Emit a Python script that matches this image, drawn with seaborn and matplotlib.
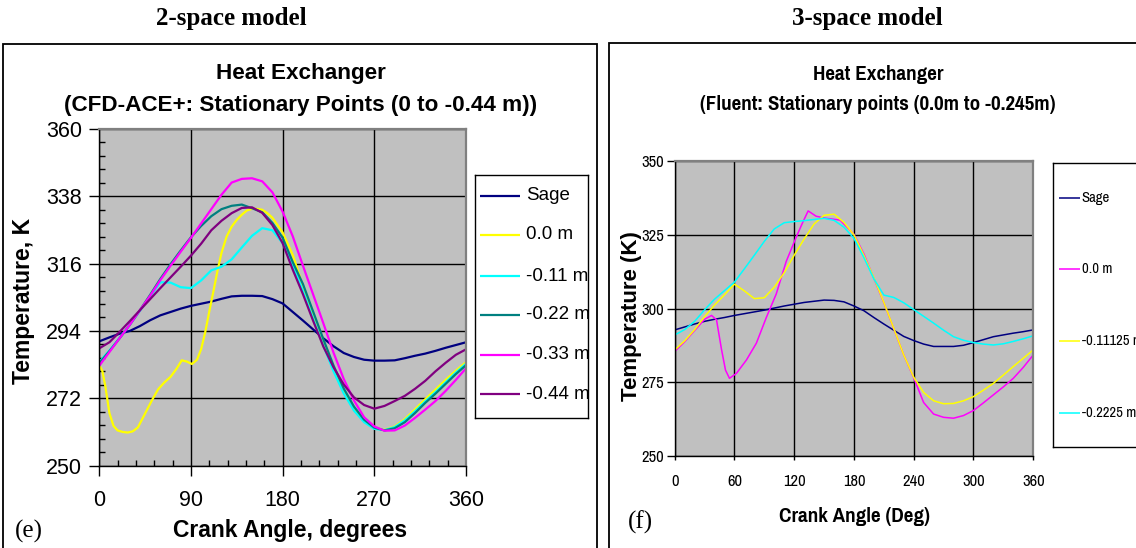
import matplotlib
matplotlib.use("Agg")
import matplotlib.pyplot as plt
import pandas as pd
import seaborn as sns
from matplotlib import font_manager
from matplotlib.patches import Rectangle
from matplotlib.ticker import FixedLocator, MultipleLocator

W, H, DPI = 1136, 548, 100

# ---------------- 2-space model (CFD-ACE+) ----------------
angle_2s = list(range(0, 361, 10))
sage_2s = [290.6, 291.9, 293.1, 294.0, 295.6, 297.5, 299.1, 300.2, 301.3, 302.2,
           302.9, 303.6, 304.5, 305.3, 305.5, 305.5, 305.4, 304.4, 303.0, 300.2,
           297.4, 294.5, 291.6, 289.0, 286.8, 285.5, 284.6, 284.3, 284.3, 284.4,
           285.1, 285.9, 286.6, 287.5, 288.5, 289.4, 290.3]
angle_2s_00 = [0, 3, 6, 10, 14, 18, 23, 28, 33, 38, 45, 52, 58, 64, 70, 76, 81, 86,
               91, 96, 100, 104, 108, 112, 116, 120, 125, 130, 135, 140, 145, 150,
               155, 160, 165, 170, 180, 190, 200, 210, 220, 230, 240, 250, 260, 270,
               280, 290, 300, 310, 320, 330, 340, 350, 360]
m00_2s = [282.8, 281.0, 276.0, 267.2, 263.0, 261.5, 261.0, 260.8, 261.2, 262.5,
          267.0, 271.5, 275.0, 277.2, 279.0, 281.7, 284.4, 284.0, 283.2, 284.6,
          288.0, 293.5, 300.3, 306.8, 313.5, 319.5, 324.8, 328.1, 330.3, 332.0,
          333.4, 333.9, 333.9, 333.6, 332.5, 331.0, 326.2, 318.8, 308.6, 299.7,
          290.8, 282.2, 274.8, 269.0, 264.9, 262.3, 261.7, 262.8, 265.2, 268.4,
          271.7, 274.8, 278.0, 281.0, 283.8]
m011_2s = [283.8, 287.6, 291.7, 296.0, 300.6, 305.3, 309.9, 309.8, 308.3, 308.0,
           310.5, 313.8, 315.0, 317.4, 321.3, 325.1, 327.6, 326.9, 322.7, 315.5,
           307.0, 298.0, 289.2, 280.8, 273.6, 268.0, 264.2, 262.0, 261.6, 262.6,
           264.8, 267.8, 271.0, 274.0, 277.2, 280.4, 283.3]
m022_2s = [283.4, 287.4, 291.6, 296.0, 300.8, 305.8, 311.0, 315.8, 320.3, 324.6,
           328.3, 331.5, 333.8, 334.9, 335.3, 334.1, 332.8, 329.3, 324.5, 316.5,
           309.3, 300.3, 291.3, 282.7, 275.2, 269.3, 265.0, 262.4, 261.5, 262.2,
           264.2, 267.2, 270.5, 273.5, 276.7, 279.9, 282.8]
m033_2s = [282.6, 287.1, 291.6, 296.0, 300.8, 305.5, 310.6, 315.3, 319.9, 324.4,
           329.1, 333.8, 338.5, 342.5, 343.7, 343.9, 342.9, 339.3, 333.0, 324.9,
           315.3, 305.9, 296.5, 286.9, 278.3, 271.3, 265.8, 262.8, 261.4, 261.5,
           263.1, 265.6, 268.3, 271.1, 274.4, 278.0, 281.8]
m044_2s = [288.3, 290.3, 293.7, 297.2, 300.8, 304.4, 308.0, 311.5, 315.0, 318.6,
           322.5, 326.9, 330.0, 332.5, 334.2, 334.4, 332.6, 328.6, 322.7, 314.0,
           306.0, 297.3, 288.9, 282.1, 276.5, 272.3, 269.8, 268.6, 269.5, 271.1,
           272.8, 275.1, 277.7, 280.8, 283.6, 286.2, 288.0]
labels_2s = ["Sage", "0.0 m", "-0.11 m", "-0.22 m", "-0.33 m", "-0.44 m"]
colors_2s = ["#000080", "#FFFF00", "#00FFFF", "#008080", "#FF00FF", "#800080"]
yticks_2s = [250, 272, 294, 316, 338, 360]
xticks_2s = [0, 90, 180, 270, 360]

# ---------------- 3-space model (Fluent) ----------------
angle_3s = list(range(0, 361, 10))
sage_3s = [292.8, 293.8, 294.8, 295.7, 296.4, 297.0, 297.7, 298.3, 298.9, 299.5,
           300.2, 300.9, 301.5, 302.1, 302.5, 302.9, 302.8, 302.3, 300.9, 299.3,
           297.0, 294.8, 292.7, 290.6, 289.2, 288.0, 287.2, 287.2, 287.2, 287.6,
           288.5, 289.5, 290.5, 291.1, 291.7, 292.2, 292.8]
angle_3s_00 = [0, 10, 20, 30, 37, 42, 47, 51, 55, 62, 72, 82, 92, 102, 112, 122,
               128, 134, 142, 152, 166, 180, 190, 200, 210, 220, 230, 240, 250,
               260, 270, 280, 290, 300, 310, 320, 330, 340, 350, 360]
m00_3s = [285.5, 288.8, 292.6, 296.4, 297.7, 296.2, 286.2, 279.2, 276.4, 278.1,
          282.6, 288.3, 297.0, 305.0, 316.0, 324.2, 328.8, 333.1, 331.3, 330.6,
          330.0, 325.2, 318.5, 310.3, 302.0, 293.2, 284.3, 276.6, 268.2, 264.3,
          263.2, 262.9, 263.8, 265.5, 268.1, 270.8, 273.5, 276.4, 280.1, 284.3]
m011125_3s = [286.0, 289.1, 292.9, 297.3, 301.2, 304.7, 308.3, 306.0, 303.4, 303.7,
              307.3, 312.2, 318.1, 323.6, 328.7, 331.6, 332.0, 329.2, 325.0, 318.0,
              310.5, 302.1, 293.3, 284.3, 276.8, 271.6, 268.8, 267.8, 267.9, 268.8,
              270.2, 272.4, 274.7, 277.5, 280.4, 283.2, 286.0]
m02225_3s = [291.1, 292.9, 295.7, 299.6, 303.2, 306.1, 309.0, 313.5, 318.1, 322.8,
             327.0, 329.1, 329.5, 329.8, 330.2, 330.6, 329.9, 327.6, 323.8, 317.3,
             310.1, 304.6, 303.8, 302.0, 299.7, 297.4, 295.1, 292.7, 290.5, 289.3,
             288.5, 288.0, 287.7, 288.1, 288.9, 289.8, 290.8]
labels_3s = ["Sage", "0.0 m", "-0.11125 m", "-0.2225 m"]
colors_3s = ["#000080", "#FF00FF", "#FFFF00", "#00FFFF"]
yticks_3s = [250, 275, 300, 325, 350]
xticks_3s = [0, 60, 120, 180, 240, 300, 360]

PLOT_BG = "#C0C0C0"

_installed = {f.name for f in font_manager.fontManager.ttflist}


def pick_family(*candidates):
    for name in candidates:
        if name in _installed:
            return name
    return "DejaVu Sans"


SANS = pick_family("Liberation Sans", "Arimo", "DejaVu Sans")
NARROW = pick_family("Liberation Sans Narrow", "Arial Narrow", "Pragati Narrow",
                     "Archivo Narrow", "PT Sans Narrow", "Roboto Condensed",
                     "IBM Plex Sans Condensed", SANS)
SERIF = pick_family("Liberation Serif", "Tinos", "DejaVu Serif")


def fx(x):
    return x / W


def fy(y):
    return 1 - y / H


def axes_rect(x0, y0, x1, y1):
    return [fx(x0), fy(y1), (x1 - x0) / W, (y1 - y0) / H]


def long_frame(parts):
    rows = []
    for label, xs, ys in parts:
        rows.append(pd.DataFrame({"angle": xs, "temp": ys, "series": label}))
    return pd.concat(rows, ignore_index=True)


def style_plot_area(ax):
    ax.set_facecolor(PLOT_BG)
    for side in ("top", "right"):
        ax.spines[side].set_color("#808080")
        ax.spines[side].set_linewidth(1.6)
    for side in ("left", "bottom"):
        ax.spines[side].set_color("black")
        ax.spines[side].set_linewidth(1.0)
    ax.grid(True, which="major", color="black", linewidth=1.0)
    ax.set_axisbelow(True)


def draw_legend(fig, box, entries, x_line, x_text, ys, fontsize, family, lw):
    x0, y0, x1, y1 = box
    lax = fig.add_axes(axes_rect(x0, y0, x1, y1))
    lax.set_xlim(x0, x1)
    lax.set_ylim(y1, y0)
    lax.set_xticks([])
    lax.set_yticks([])
    lax.set_facecolor("white")
    for s in lax.spines.values():
        s.set_color("black")
        s.set_linewidth(1.0)
    for (label, color), y in zip(entries, ys):
        lax.plot(x_line, [y, y], color=color, linewidth=lw, solid_capstyle="butt")
        lax.text(x_text, y, label, va="center", ha="left", fontsize=fontsize,
                 family=family, clip_on=True)
    return lax


fig = plt.figure(figsize=(W / DPI, H / DPI), dpi=DPI)
fig.patch.set_facecolor("white")

# panel frames
fig.patches.append(Rectangle((fx(3), fy(600)), fx(597) - fx(3), fy(44) - fy(600),
                             transform=fig.transFigure, fill=False,
                             edgecolor="black", linewidth=1.3))
fig.patches.append(Rectangle((fx(608.5), fy(600)), fx(1160) - fx(608.5), fy(43) - fy(600),
                             transform=fig.transFigure, fill=False,
                             edgecolor="black", linewidth=1.3))

fig.text(fx(231), fy(18), "2-space model", ha="center", va="center",
         fontsize=18, fontweight="bold", family=SERIF)
fig.text(fx(867), fy(18), "3-space model", ha="center", va="center",
         fontsize=18, fontweight="bold", family=SERIF)

# ---------------- left chart ----------------
axL = fig.add_axes(axes_rect(99.2, 129, 466, 465.6))
style_plot_area(axL)
df_2s = long_frame([
    (labels_2s[0], angle_2s, sage_2s),
    (labels_2s[1], angle_2s_00, m00_2s),
    (labels_2s[2], angle_2s, m011_2s),
    (labels_2s[3], angle_2s, m022_2s),
    (labels_2s[4], angle_2s, m033_2s),
    (labels_2s[5], angle_2s, m044_2s),
])
sns.lineplot(data=df_2s, x="angle", y="temp", hue="series", hue_order=labels_2s,
             palette=colors_2s, estimator=None, sort=False, legend=False,
             linewidth=1.6, ax=axL)
axL.set_xlim(0, 360)
axL.set_ylim(250, 360)
axL.xaxis.set_major_locator(FixedLocator(xticks_2s))
axL.xaxis.set_minor_locator(MultipleLocator(18))
axL.yaxis.set_major_locator(FixedLocator(yticks_2s))
step = (yticks_2s[1] - yticks_2s[0]) / 5
axL.yaxis.set_minor_locator(FixedLocator([yticks_2s[0] + step * k for k in range(26)]))
axL.tick_params(axis="both", which="major", direction="out", length=7.5, width=1,
                color="black", labelsize=15.5)
axL.tick_params(axis="both", which="minor", direction="in", length=4, width=1,
                color="black")
axL.tick_params(axis="x", which="major", pad=10)
axL.tick_params(axis="y", which="major", pad=5)
for lab in axL.get_xticklabels() + axL.get_yticklabels():
    lab.set_family(SANS)
axL.set_xlabel("Crank Angle, degrees", fontsize=16.5, fontweight="bold", family=SANS)
axL.xaxis.set_label_coords((290 - 99.2) / 366.8, (465.6 - 537) / 336.6)
axL.xaxis.label.set_va("baseline")
axL.set_ylabel("Temperature, K", fontsize=16.5, fontweight="bold", family=SANS)
axL.yaxis.set_label_coords((23.3 - 99.2) / 366.8, (465.6 - 300.7) / 336.6)
axL.yaxis.label.set_va("center")
fig.text(fx(301), fy(74), "Heat Exchanger", ha="center", va="center",
         fontsize=16.2, fontweight="bold", family=SANS)
fig.text(fx(301), fy(105), "(CFD-ACE+: Stationary Points (0 to -0.44 m))",
         ha="center", va="center", fontsize=16.2, fontweight="bold", family=SANS)
fig.text(fx(15), fy(531), "(e)", ha="left", va="center", fontsize=18, family=SERIF)

draw_legend(fig, (475, 175, 588, 418), list(zip(labels_2s, colors_2s)),
            [480, 520], 526,
            [195.7, 234.9, 276.1, 314.6, 354.8, 394.3], 13.5, SANS, 1.6)

# ---------------- right chart ----------------
axR = fig.add_axes(axes_rect(674.7, 161, 1033.2, 456.3))
style_plot_area(axR)
df_3s = long_frame([
    (labels_3s[0], angle_3s, sage_3s),
    (labels_3s[1], angle_3s_00, m00_3s),
    (labels_3s[2], angle_3s, m011125_3s),
    (labels_3s[3], angle_3s, m02225_3s),
])
sns.lineplot(data=df_3s, x="angle", y="temp", hue="series", hue_order=labels_3s,
             palette=colors_3s, estimator=None, sort=False, legend=False,
             linewidth=1.1, ax=axR)
axR.set_xlim(0, 360)
axR.set_ylim(250, 350)
axR.xaxis.set_major_locator(FixedLocator(xticks_3s))
axR.yaxis.set_major_locator(FixedLocator(yticks_3s))
axR.tick_params(axis="x", which="major", direction="out", length=3, width=1,
                color="black", labelsize=13, pad=10)
axR.tick_params(axis="y", which="major", direction="out", length=6, width=1,
                color="black", labelsize=13, pad=1.5)
for lab in axR.get_xticklabels() + axR.get_yticklabels():
    lab.set_family(NARROW)
axR.set_xlabel("Crank Angle (Deg)", fontsize=16.5, fontweight="bold", family=NARROW)
axR.xaxis.set_label_coords((854 - 674.7) / 358.5, (456.3 - 522.5) / 295.3)
axR.xaxis.label.set_va("baseline")
axR.set_ylabel("Temperature (K)", fontsize=16, fontweight="bold", family=SANS)
axR.yaxis.set_label_coords((632 - 674.7) / 358.5, (456.3 - 316.5) / 295.3)
axR.yaxis.label.set_va("center")
fig.text(fx(878), fy(74), "Heat Exchanger", ha="center", va="center",
         fontsize=16.5, fontweight="bold", family=NARROW)
fig.text(fx(878), fy(105), "(Fluent: Stationary points (0.0m to -0.245m)",
         ha="center", va="center", fontsize=16.5, fontweight="bold", family=NARROW)
fig.text(fx(628), fy(522), "(f)", ha="left", va="center", fontsize=18, family=SERIF)

draw_legend(fig, (1053, 163.3, 1160, 446.7), list(zip(labels_3s, colors_3s)),
            [1059, 1080], 1081.5,
            [198.2, 269.1, 341.0, 413.0], 11.5, NARROW, 1.1)

fig.savefig("out.png", dpi=DPI, facecolor=fig.get_facecolor())
